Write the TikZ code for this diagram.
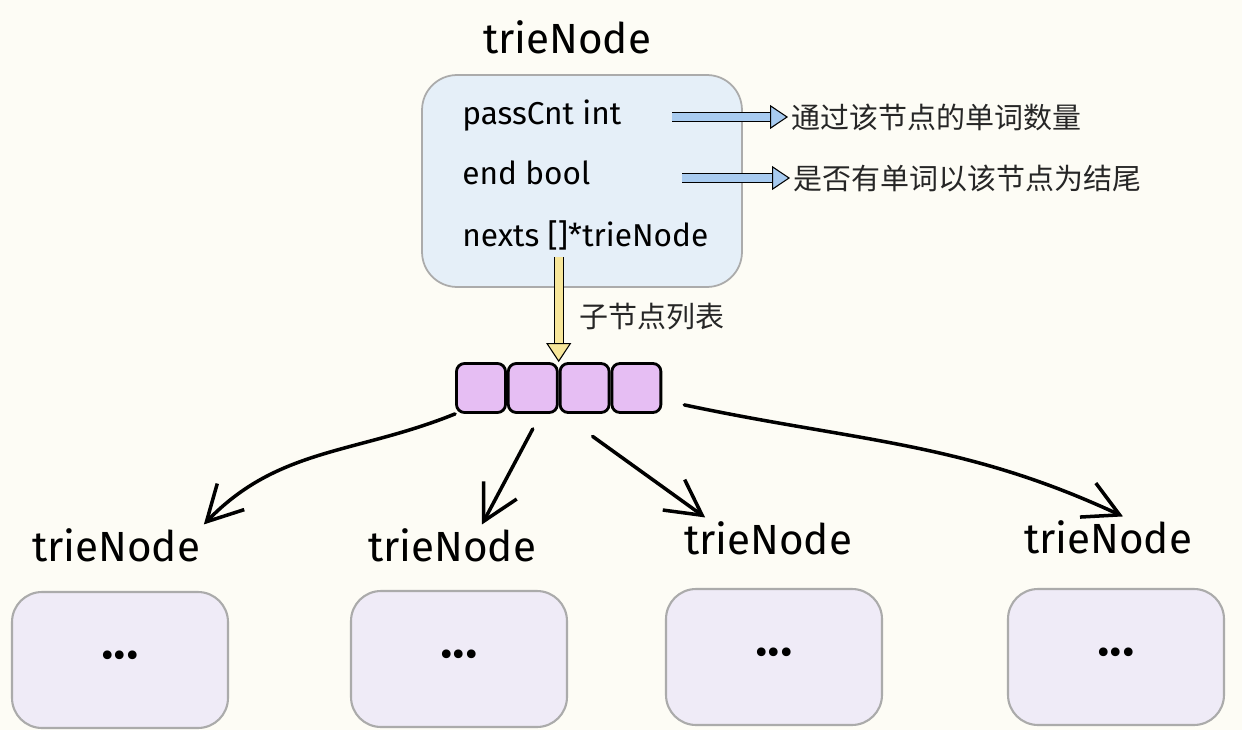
\documentclass[tikz,border=0pt]{standalone}
\usepackage{fontspec}
\setmainfont{Fira Sans}
\newfontfamily\cjkfont{Noto Sans CJK SC}
\usetikzlibrary{positioning,arrows.meta}

\definecolor{paper}{HTML}{FDFCF5}
\definecolor{structfill}{HTML}{E5EFF8}
\definecolor{framegray}{HTML}{ABABAB}
\definecolor{slotfill}{HTML}{E6BEF3}
\definecolor{childfill}{HTML}{EFEBF7}
\definecolor{hintblue}{HTML}{A8CBF0}
\definecolor{hintyellow}{HTML}{F7E69A}

\begin{document}
\begin{tikzpicture}[
    x=0.02cm, y=0.02cm,
    title/.style={font=\fontsize{24}{28}\selectfont, inner sep=2pt},
    field/.style={anchor=west, font=\fontsize{18}{22}\selectfont, inner sep=0pt},
    note/.style={anchor=west, font=\cjkfont\fontsize{16.5}{20}\selectfont, text=black!85, inner sep=2pt},
    structbox/.style={draw=framegray, line width=1pt, fill=structfill, rounded corners=0.7cm, minimum width=6.4cm, minimum height=4.24cm},
    slot/.style={draw=black, line width=1.6pt, fill=slotfill, rounded corners=0.16cm, minimum size=0.98cm},
    childbox/.style={draw=framegray, line width=1.2pt, fill=childfill, rounded corners=0.6cm, minimum width=4.32cm, minimum height=2.72cm, font=\fontsize{22}{24}\selectfont},
    hint/.style={double=hintblue, double distance=0.15cm, line width=0.6pt, -{Triangle[length=0.36cm, width=0.48cm, fill=hintblue]}},
    listarrow/.style={double=hintyellow, double distance=0.16cm, line width=0.6pt, -{Triangle[length=0.38cm, width=0.5cm, fill=hintyellow]}},
    branch/.style={draw=black, line width=2pt, line cap=round, -{Straight Barb[length=0.7cm, width=0.75cm]}},
]
    % Paper
    \useasboundingbox (0,0) rectangle (1242,-730);
    \fill[paper] (0,0) rectangle (1242,-730);

    % Root node
    \node[title] (rootlabel) at (567,-37) {trieNode};
    \node[structbox] (root) at (582,-181) {};
    \node[field] (passcnt) at (462,-116) {passCnt int};
    \node[field] (endflag) at (462,-173) {end bool};
    \node[field] (nexts) at (462,-235) {nexts []*trieNode};

    % Field notes
    \node[note] (passnote) at (788,-117) {通过该节点的单词数量};
    \node[note] (endnote) at (790,-178) {是否有单词以该节点为结尾};
    \coordinate (passtail) at (672,-117);
    \coordinate (endtail) at (682,-178);
    \draw[hint] (passtail) -- (passnote.west);
    \draw[hint] (endtail) -- (endnote.west);

    % Child slots
    \node[slot] (slot1) at (481,-388) {};
    \node[slot, right=0cm of slot1] (slot2) {};
    \node[slot, right=0cm of slot2] (slot3) {};
    \node[slot, right=0cm of slot3] (slot4) {};

    \coordinate (nextstail) at ([yshift=2.1cm]slot2.north east);
    \node[note] (slotnote) at (576,-317) {子节点列表};
    \draw[listarrow] (nextstail) -- (slot2.north east);

    % Children
    \node[childbox] (child1) at (120,-660) {•••};
    \node[childbox] (child2) at (459,-659) {•••};
    \node[childbox] (child3) at (774,-657) {•••};
    \node[childbox] (child4) at (1116,-657) {•••};
    \node[title] (childlabel1) at (116,-545) {trieNode};
    \node[title] (childlabel2) at (452,-545) {trieNode};
    \node[title] (childlabel3) at (768,-538) {trieNode};
    \node[title] (childlabel4) at (1108,-537) {trieNode};

    % Branches
    \draw[branch] (slot1.south west) to[out=202, in=46] (childlabel1.north east);
    \draw[branch] ([yshift=-0.3cm]slot2.south) -- ([xshift=0.6cm]childlabel2.north);
    \draw[branch] ([xshift=0.16cm, yshift=-0.45cm]slot3.south) -- ([xshift=0.5cm]childlabel3.north west);
    \draw[branch] ([xshift=0.44cm, yshift=0.18cm]slot4.south east) to[out=-12, in=155] ([xshift=0.3cm]childlabel4.north);
\end{tikzpicture}
\end{document}
